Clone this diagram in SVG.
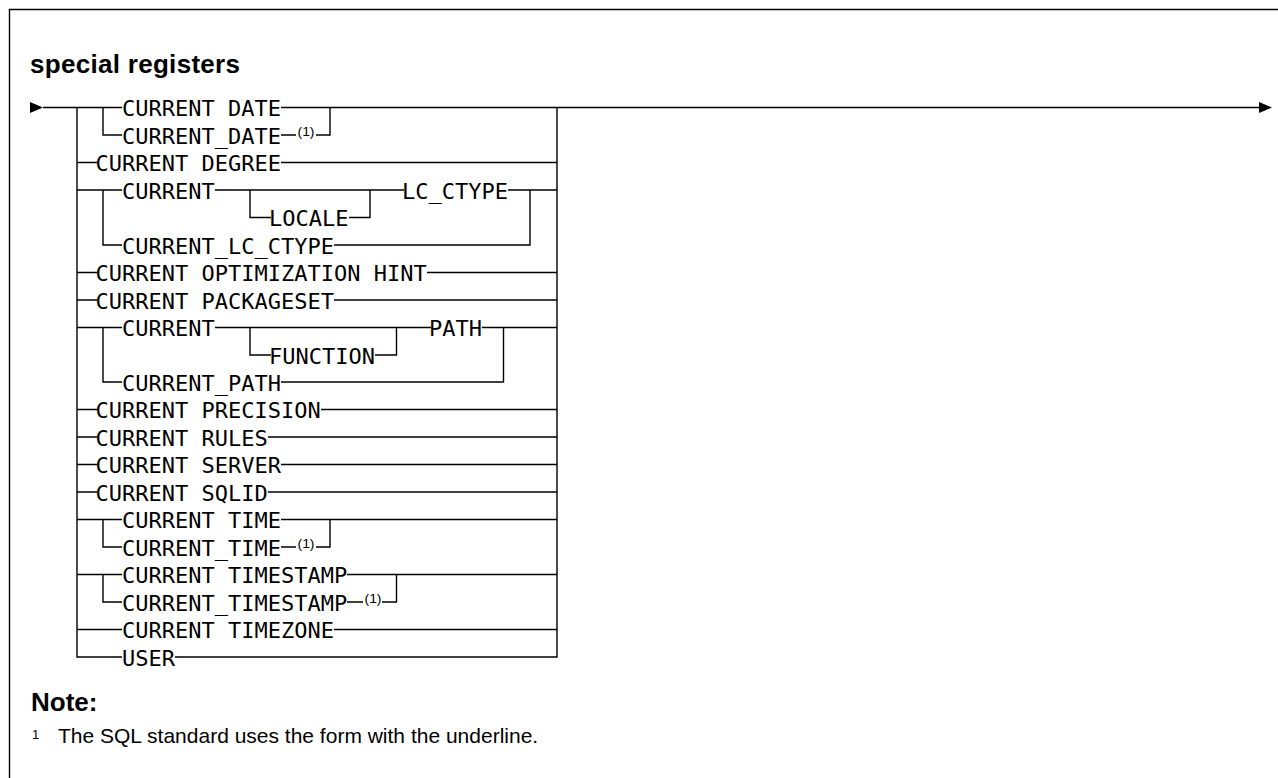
<svg xmlns="http://www.w3.org/2000/svg" width="1278" height="778" viewBox="0 0 1278 778">
<style>
.k{font-family:"DejaVu Sans Mono","Liberation Mono",monospace;font-size:22px;fill:#000}
.fn{font-family:"Liberation Sans",Arial,sans-serif;font-size:12px;fill:#000}
.h{font-family:"Liberation Sans",Arial,sans-serif;font-size:26px;font-weight:bold;fill:#000}
.t{font-family:"Liberation Sans",Arial,sans-serif;font-size:21px;fill:#000}
.ln{fill:none;stroke:#000;stroke-width:1.4}
.ar{fill:#000;stroke:none}
</style>
<rect width="1278" height="778" fill="#fff"/>
<path class="ln" d="M9.5,778 V9.5 H1278" stroke-width="1.5"/>
<g id="title"><text class="h" x="30" y="73" textLength="210" lengthAdjust="spacing">special registers</text></g>

<g id="connectors">
<path class="ar" d="M30,102 L43,107.5 L30,113 Z"/>
<path class="ar" d="M1259,102 L1272,107.5 L1259,113 Z"/>
<path class="ln" d="M43,107.5 H122 M281,107.5 H1260"/>
<path class="ln" d="M77,107.5 V657 H122"/>
<path class="ln" d="M557,107.5 V657 H175"/>
<path class="ln" d="M103,107.5 V135 H122 M281,135 H296 M316,135 H330 V107.5"/>
<path class="ln" d="M77,162.5 H97 M281,162.5 H557"/>
<path class="ln" d="M77,190 H122 M215,190 H404 M508,190 H557"/>
<path class="ln" d="M103,190 V245 H122"/>
<path class="ln" d="M250,190 V217.5 H271 M349,217.5 H370 V190"/>
<path class="ln" d="M334,245 H530 V190"/>
<path class="ln" d="M77,272.5 H97 M427,272.5 H557"/>
<path class="ln" d="M77,300 H97 M334,300 H557"/>
<path class="ln" d="M77,327.5 H122 M215,327.5 H431 M482,327.5 H557"/>
<path class="ln" d="M103,327.5 V382 H122"/>
<path class="ln" d="M250,327.5 V355 H271 M375,355 H396.5 V327.5"/>
<path class="ln" d="M281,382 H503.5 V327.5"/>
<path class="ln" d="M77,409.5 H97 M321,409.5 H557"/>
<path class="ln" d="M77,437 H97 M268,437 H557"/>
<path class="ln" d="M77,464.5 H97 M281,464.5 H557"/>
<path class="ln" d="M77,492 H97 M268,492 H557"/>
<path class="ln" d="M77,519.5 H122 M281,519.5 H557"/>
<path class="ln" d="M103,519.5 V547 H122 M281,547 H296 M316,547 H330 V519.5"/>
<path class="ln" d="M77,574.5 H122 M347,574.5 H557"/>
<path class="ln" d="M103,574.5 V602 H122 M347,602 H363 M382,602 H396.5 V574.5"/>
<path class="ln" d="M77,629.5 H122 M334,629.5 H557"/>
</g>

<g id="n-current-date"><text class="k" x="122" y="116">CURRENT DATE</text></g>
<g id="n-current_date"><text class="k" x="122" y="143.5">CURRENT_DATE</text><text class="fn" x="297.5" y="135.5" textLength="17" lengthAdjust="spacingAndGlyphs">(1)</text></g>
<g id="n-current-degree"><text class="k" x="95.5" y="171">CURRENT DEGREE</text></g>
<g id="n-current-lc"><text class="k" x="122" y="198.5">CURRENT</text></g>
<g id="n-locale"><text class="k" x="269" y="226">LOCALE</text></g>
<g id="n-lc_ctype"><text class="k" x="402" y="198.5">LC_CTYPE</text></g>
<g id="n-current_lc_ctype"><text class="k" x="122" y="253.5">CURRENT_LC_CTYPE</text></g>
<g id="n-optimization-hint"><text class="k" x="95.5" y="281">CURRENT OPTIMIZATION HINT</text></g>
<g id="n-packageset"><text class="k" x="95.5" y="308.5">CURRENT PACKAGESET</text></g>
<g id="n-current-path"><text class="k" x="122" y="336">CURRENT</text></g>
<g id="n-function"><text class="k" x="269" y="363.5">FUNCTION</text></g>
<g id="n-path"><text class="k" x="429" y="336">PATH</text></g>
<g id="n-current_path"><text class="k" x="122" y="390.5">CURRENT_PATH</text></g>
<g id="n-precision"><text class="k" x="95.5" y="418">CURRENT PRECISION</text></g>
<g id="n-rules"><text class="k" x="95.5" y="445.5">CURRENT RULES</text></g>
<g id="n-server"><text class="k" x="95.5" y="473">CURRENT SERVER</text></g>
<g id="n-sqlid"><text class="k" x="95.5" y="500.5">CURRENT SQLID</text></g>
<g id="n-current-time"><text class="k" x="122" y="528">CURRENT TIME</text></g>
<g id="n-current_time"><text class="k" x="122" y="555.5">CURRENT_TIME</text><text class="fn" x="297.5" y="547.5" textLength="17" lengthAdjust="spacingAndGlyphs">(1)</text></g>
<g id="n-current-timestamp"><text class="k" x="122" y="583">CURRENT TIMESTAMP</text></g>
<g id="n-current_timestamp"><text class="k" x="122" y="610.5">CURRENT_TIMESTAMP</text><text class="fn" x="364.5" y="602.5" textLength="17" lengthAdjust="spacingAndGlyphs">(1)</text></g>
<g id="n-timezone"><text class="k" x="122" y="638">CURRENT TIMEZONE</text></g>
<g id="n-user"><text class="k" x="122" y="665.5">USER</text></g>

<g id="note">
<text class="h" x="31" y="711">Note:</text>
<text class="fn" x="32" y="739" style="font-size:13px">1</text>
<text class="t" x="58" y="743">The SQL standard uses the form with the underline.</text>
</g>
</svg>
